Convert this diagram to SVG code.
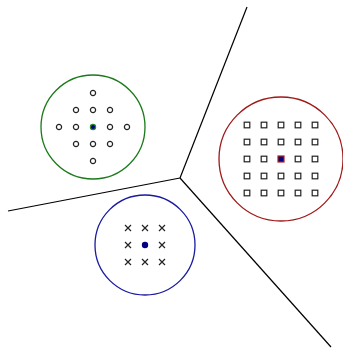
<svg xmlns="http://www.w3.org/2000/svg" width="343" height="349" viewBox="0 0 343 349">
<defs>
<style>
.o{fill:none;stroke:#222;stroke-width:1.2}
.sq{fill:none;stroke:#222;stroke-width:1.2}
.x{stroke:#222;stroke-width:1.2}
.edge{stroke:#000;stroke-width:1.2;fill:none}
</style>
<circle id="c" class="o" r="2.6"/>
<rect id="s" class="sq" x="-2.8" y="-2.8" width="5.6" height="5.6"/>
<path id="x" class="x" d="M-3,-3L3,3M-3,3L3,-3"/>
</defs>
<rect width="343" height="349" fill="#fff"/>
<g id="connectors">
<line class="edge" x1="180" y1="178" x2="247" y2="7"/>
<line class="edge" x1="180" y1="178" x2="8" y2="211"/>
<line class="edge" x1="180" y1="178" x2="331" y2="347"/>
</g>
<g id="green-cluster">
<circle cx="93" cy="127" r="52" fill="none" stroke="#1a7a1a" stroke-width="1.3"/>
<use href="#c" x="93" y="93"/>
<use href="#c" x="76" y="110"/><use href="#c" x="93" y="110"/><use href="#c" x="110" y="110"/>
<use href="#c" x="59" y="127"/><use href="#c" x="76" y="127"/><use href="#c" x="110" y="127"/><use href="#c" x="127" y="127"/>
<use href="#c" x="76" y="144"/><use href="#c" x="93" y="144"/><use href="#c" x="110" y="144"/>
<use href="#c" x="93" y="161"/>
<circle cx="93" cy="127" r="2.6" fill="#000080" stroke="#2a8a2a" stroke-width="1.2"/>
</g>
<g id="red-cluster">
<circle cx="281" cy="159" r="62" fill="none" stroke="#a01818" stroke-width="1.3"/>
<use href="#s" x="247" y="125"/><use href="#s" x="264" y="125"/><use href="#s" x="281" y="125"/><use href="#s" x="298" y="125"/><use href="#s" x="315" y="125"/>
<use href="#s" x="247" y="142"/><use href="#s" x="264" y="142"/><use href="#s" x="281" y="142"/><use href="#s" x="298" y="142"/><use href="#s" x="315" y="142"/>
<use href="#s" x="247" y="159"/><use href="#s" x="264" y="159"/><use href="#s" x="298" y="159"/><use href="#s" x="315" y="159"/>
<use href="#s" x="247" y="176"/><use href="#s" x="264" y="176"/><use href="#s" x="281" y="176"/><use href="#s" x="298" y="176"/><use href="#s" x="315" y="176"/>
<use href="#s" x="247" y="193"/><use href="#s" x="264" y="193"/><use href="#s" x="281" y="193"/><use href="#s" x="298" y="193"/><use href="#s" x="315" y="193"/>
<rect x="278" y="156" width="6" height="6" fill="#000080" stroke="#b02020" stroke-width="1.2"/>
</g>
<g id="blue-cluster">
<circle cx="145" cy="245" r="50" fill="none" stroke="#1a1aa0" stroke-width="1.3"/>
<use href="#x" x="128" y="228"/><use href="#x" x="145" y="228"/><use href="#x" x="162" y="228"/>
<use href="#x" x="128" y="245"/><use href="#x" x="162" y="245"/>
<use href="#x" x="128" y="262"/><use href="#x" x="145" y="262"/><use href="#x" x="162" y="262"/>
<circle cx="145" cy="245" r="3.2" fill="#000080"/>
</g>
</svg>
